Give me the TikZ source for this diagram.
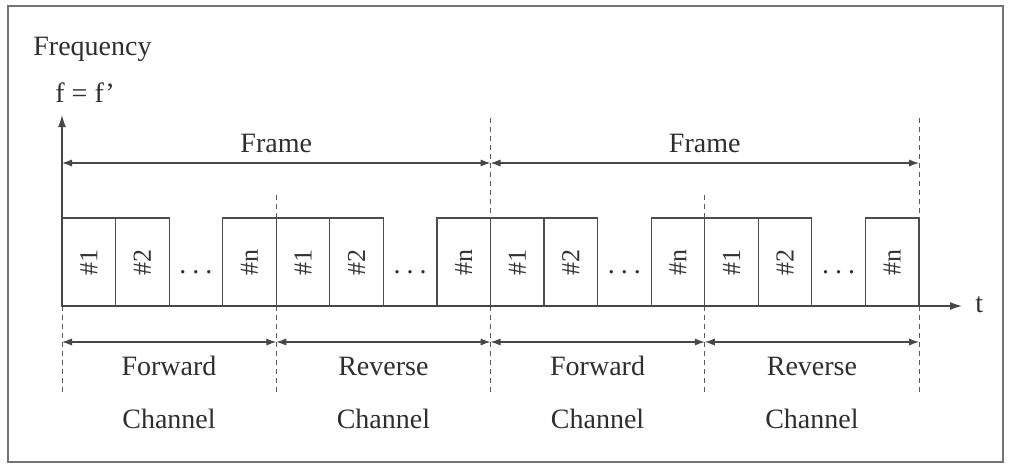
\documentclass[tikz,border=0pt]{standalone}
\usepackage{fontspec}
\setmainfont{Liberation Serif}
\usetikzlibrary{arrows.meta}
\begin{document}
\begin{tikzpicture}[x=0.5pt,y=-0.5pt,
  ln/.style={draw=black!72, line width=0.6pt},
  slot/.style={draw=black!70, line width=0.6pt, rotate=90, minimum width=44pt, minimum height=26.78pt, inner sep=0pt, outer sep=0pt, font=\fontsize{13}{13}\selectfont, text=black!80},
  lbl/.style={font=\fontsize{14}{16}\selectfont, text=black!82, inner sep=0pt},
  dim/.style={ln, {Latex[length=5pt,width=3.6pt]}-{Latex[length=5pt,width=3.6pt]}},
  guide/.style={draw=black!65, line width=0.5pt, dash pattern=on 2.5pt off 2pt}]
\useasboundingbox (0,0) rectangle (1010,466);
\draw[draw=black!55, line width=0.6pt] (8,6) rectangle (1003,462);

% texts at top
\node[lbl, anchor=base west] (freq) at (33,55) {Frequency};
\node[lbl, anchor=base west] (ff) at (55,102) {f = f’};

% slots
\foreach \g in {0,1,2,3} {
  \pgfmathsetmacro\gx{62+\g*214.25}
  \node[slot] (s\g-1) at (\gx+26.78,262) {\#1};
  \node[slot] (s\g-2) at (\gx+80.34,262) {\#2};
  \node[slot] (s\g-n) at (\gx+187.47,262) {\#n};
  \node[lbl] (d\g) at (\gx+133.9,272) {.\hspace{3pt}.\hspace{3pt}.};
}

% boundary coordinates
\foreach \i/\x in {0/62,1/276.25,2/490.5,3/704.75,4/919} {
  \coordinate (top\i) at (\x,195);
  \coordinate (ftop\i) at (\x,118);
  \coordinate (base\i) at (\x,218);
  \coordinate (bot\i) at (\x,306);
  \coordinate (low\i) at (\x,395);
  \coordinate (fr\i) at (\x,163);
  \coordinate (ch\i) at (\x,342);
}

% guides
\draw[guide] (ftop2) -- (base2);
\draw[guide] (ftop4) -- (base4);
\draw[guide] (top1) -- (base1);
\draw[guide] (top3) -- (base3);
\foreach \i in {0,...,4} { \draw[guide] (bot\i) -- (low\i); }

% axes
\coordinate (yend) at (62,115);
\coordinate (xend) at (962,306);
\draw[ln, -{Latex[length=6pt,width=4pt]}] (bot0) -- (yend);
\draw[ln, -{Latex[length=6pt,width=4pt]}] (bot0) -- (xend);
\node[lbl, anchor=base west] (t) at (975,312) {t};

% frame arrows
\draw[dim] (fr0) -- (fr2);
\draw[dim] (fr2) -- (fr4);
\node[lbl, anchor=base] (frame1) at (276.25,152) {Frame};
\node[lbl, anchor=base] (frame2) at (704.75,152) {Frame};

% channel arrows
\draw[dim] (ch0) -- (ch1);
\draw[dim] (ch1) -- (ch2);
\draw[dim] (ch2) -- (ch3);
\draw[dim] (ch3) -- (ch4);
\foreach \i/\x/\w in {0/169/Forward,1/383.4/Reverse,2/597.6/Forward,3/811.9/Reverse} {
  \node[lbl, anchor=base] (cw\i) at (\x,375) {\w};
  \node[lbl, anchor=base] (cc\i) at (\x,428) {Channel};
}
\end{tikzpicture}
\end{document}
